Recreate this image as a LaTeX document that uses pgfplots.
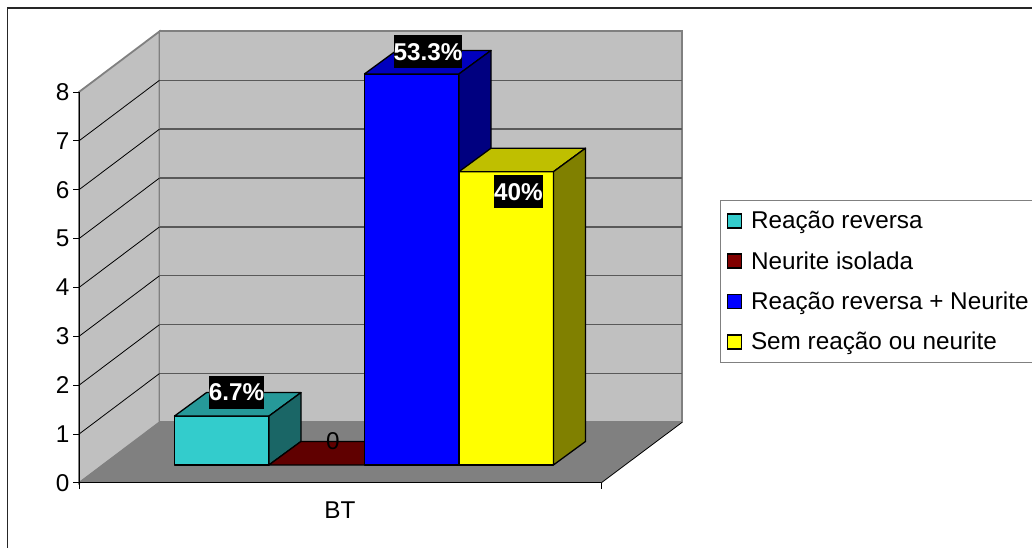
\documentclass[border=0pt]{standalone}
\usepackage{pgfplots}
\pgfplotsset{compat=1.18}
\usepackage{fontspec}
\setmainfont{Liberation Sans}
\definecolor{wall}{HTML}{C0C0C0}
\definecolor{floorgray}{HTML}{808080}
\definecolor{wallgrid}{HTML}{595959}
\definecolor{tealfront}{HTML}{33CCCC}
\definecolor{tealside}{HTML}{1A6666}
\definecolor{tealtop}{HTML}{269999}
\definecolor{redfront}{HTML}{800000}
\definecolor{redtop}{HTML}{600000}
\definecolor{bluefront}{HTML}{0000FF}
\definecolor{blueside}{HTML}{000080}
\definecolor{bluetop}{HTML}{0000BF}
\definecolor{yelfront}{HTML}{FFFF00}
\definecolor{yelside}{HTML}{808000}
\definecolor{yeltop}{HTML}{BFBF00}
\newcommand{\chartfont}{\fontsize{24.3pt}{26pt}\selectfont}
\pgfplotsset{
  swatch/.style={legend image code/.code={
    \draw[black,line width=1.5pt,fill=#1] (0pt,-7pt) rectangle (14pt,7pt);}},
  wallpart/.style={draw=floorgray,line width=1.8pt,fill=wall,forget plot},
  boxface/.style={draw=black,line width=1.3pt,line join=round,forget plot,fill=#1},
}
\begin{document}
\begin{tikzpicture}[x=1pt,y=1pt]
\useasboundingbox (0,0) rectangle (1032,548);
\fill[white] (0,0) rectangle (1032,548);
\draw[black!85,line width=1.3pt] (7.5,-5) -- (7.5,540) -- (1040,540);
\begin{axis}[
  at={(79pt,65pt)},anchor=south west,
  scale only axis,width=522pt,height=391pt,
  xmin=79,xmax=601,ymin=0,ymax=8,
  clip=false,axis on top,
  axis x line*=bottom,axis y line*=left,
  x axis line style={-},y axis line style={-},
  axis line style={black,line width=1pt},
  xtick={79,601},xticklabels={},
  extra x ticks={340},extra x tick labels={BT},
  extra x tick style={major tick length=0pt,tick label style={yshift=-15pt}},
  ytick={0,1,...,8},
  major tick length=6pt,
  tick align=outside,
  tick style={black,line width=1pt},
  tick label style={font=\chartfont},
  /pgf/number format/assume math mode=true,
  legend style={
    at={(1.228,0.7238)},anchor=north west,
    draw=floorgray,line width=1pt,font=\chartfont,
    inner xsep=6pt,inner ysep=9pt,
    row sep=17.2pt,
    legend cell align=left,
    /tikz/every odd column/.append style={column sep=7pt},
  },
]
% side wall, back wall and floor of the chart box
\addplot[wallpart] coordinates {(79,0) (159.5,1.24) (159.5,9.24) (79,8)} -- cycle;
\addplot[wallpart] coordinates {(159.5,1.24) (682,1.24) (682,9.24) (159.5,9.24)} -- cycle;
\addplot[draw=none,fill=floorgray,forget plot] coordinates {(79,0) (601,0) (682,1.24) (159.5,1.24)} -- cycle;
\addplot[black,line width=0.8pt,forget plot] coordinates {(601,0) (682,1.24)};
\addplot[floorgray,line width=1pt,forget plot] coordinates {(79,0) (159.5,1.24)};
% grid lines on the back wall
\addplot[wallgrid,line width=1.4pt,forget plot] coordinates {(159.5,2.24) (682,2.24)};
\addplot[wallgrid,line width=1.4pt,forget plot] coordinates {(159.5,3.24) (682,3.24)};
\addplot[wallgrid,line width=1.4pt,forget plot] coordinates {(159.5,4.24) (682,4.24)};
\addplot[wallgrid,line width=1.4pt,forget plot] coordinates {(159.5,5.24) (682,5.24)};
\addplot[wallgrid,line width=1.4pt,forget plot] coordinates {(159.5,6.24) (682,6.24)};
\addplot[wallgrid,line width=1.4pt,forget plot] coordinates {(159.5,7.24) (682,7.24)};
\addplot[wallgrid,line width=1.4pt,forget plot] coordinates {(159.5,8.24) (682,8.24)};
% grid lines on the side wall
\addplot[black,line width=0.8pt,forget plot] coordinates {(79,1) (159.5,2.24)};
\addplot[black,line width=0.8pt,forget plot] coordinates {(79,2) (159.5,3.24)};
\addplot[black,line width=0.8pt,forget plot] coordinates {(79,3) (159.5,4.24)};
\addplot[black,line width=0.8pt,forget plot] coordinates {(79,4) (159.5,5.24)};
\addplot[black,line width=0.8pt,forget plot] coordinates {(79,5) (159.5,6.24)};
\addplot[black,line width=0.8pt,forget plot] coordinates {(79,6) (159.5,7.24)};
\addplot[black,line width=0.8pt,forget plot] coordinates {(79,7) (159.5,8.24)};
% Reacao reversa: value 1 (floor offset 0.37, depth 32 wide and 0.48 high)
\addplot[boxface=tealfront] coordinates {(174.5,0.37) (269,0.37) (269,1.37) (174.5,1.37)} -- cycle;
\addplot[boxface=tealtop] coordinates {(174.5,1.37) (269,1.37) (301,1.85) (206.5,1.85)} -- cycle;
\addplot[boxface=tealside] coordinates {(269,0.37) (301,0.85) (301,1.85) (269,1.37)} -- cycle;
% Neurite isolada: value 0
\addplot[boxface=redtop] coordinates {(269,0.37) (364.5,0.37) (396.5,0.85) (301,0.85)} -- cycle;
% Reacao reversa + Neurite: value 8
\addplot[boxface=bluefront] coordinates {(364.5,0.37) (459,0.37) (459,8.37) (364.5,8.37)} -- cycle;
\addplot[boxface=bluetop] coordinates {(364.5,8.37) (459,8.37) (491,8.85) (396.5,8.85)} -- cycle;
\addplot[boxface=blueside] coordinates {(459,0.37) (491,0.85) (491,8.85) (459,8.37)} -- cycle;
% Sem reacao ou neurite: value 6
\addplot[boxface=yelfront] coordinates {(459,0.37) (553.5,0.37) (553.5,6.37) (459,6.37)} -- cycle;
\addplot[boxface=yeltop] coordinates {(459,6.37) (553.5,6.37) (585.5,6.85) (491,6.85)} -- cycle;
\addplot[boxface=yelside] coordinates {(553.5,0.37) (585.5,0.85) (585.5,6.85) (553.5,6.37)} -- cycle;
% data labels
\node[fill=black,text=white,font=\chartfont\bfseries,inner sep=0pt,minimum width=54pt,minimum height=33pt] at (axis cs:236.5,1.85) {6.7\%};
\node[fill=black,text=white,font=\chartfont\bfseries,inner sep=0pt,minimum width=68pt,minimum height=33pt] at (axis cs:428,8.82) {53.3\%};
\node[fill=black,text=white,font=\chartfont\bfseries,inner sep=0pt,minimum width=46pt,minimum height=33pt] at (axis cs:518.5,5.96) {40\%};
\node[text=black,font=\chartfont,inner sep=0pt] at (axis cs:333,0.85) {0};
% legend
\addlegendimage{swatch=tealfront}
\addlegendentry{Reação reversa}
\addlegendimage{swatch=redfront}
\addlegendentry{Neurite isolada}
\addlegendimage{swatch=bluefront}
\addlegendentry{Reação reversa + Neurite\hspace{60pt}}
\addlegendimage{swatch=yelfront}
\addlegendentry{Sem reação ou neurite}
\end{axis}
\end{tikzpicture}
\end{document}
